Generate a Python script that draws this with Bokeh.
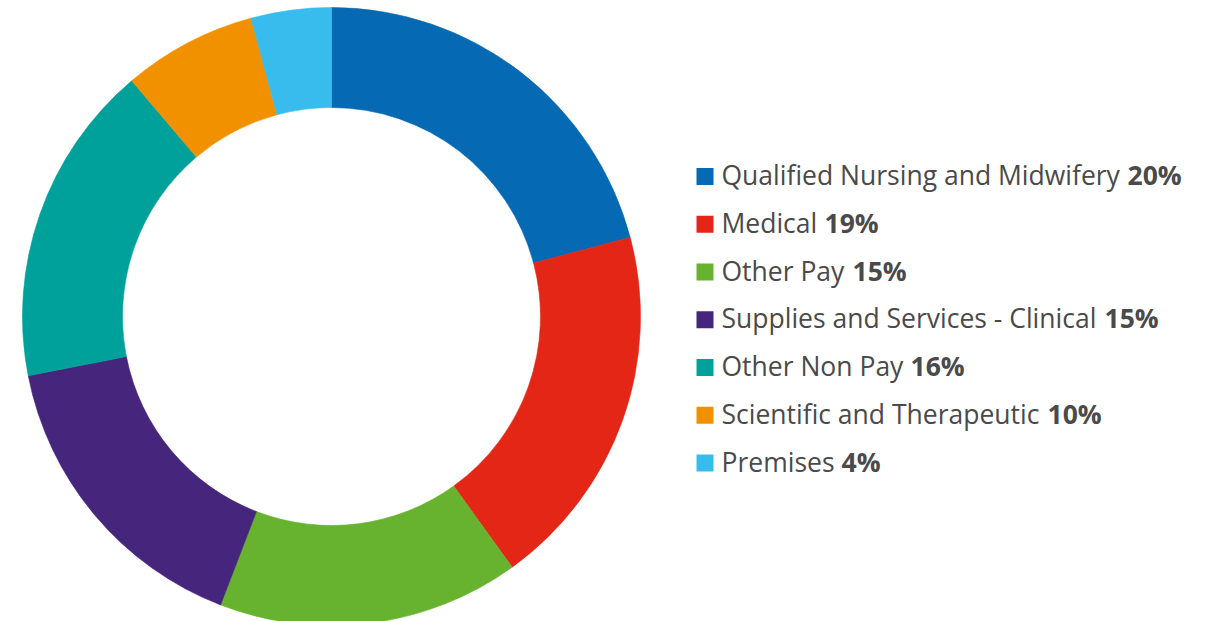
import math
from bokeh.plotting import figure
from bokeh.models import Range1d, ColumnDataSource
from bokeh.core.properties import value
from bokeh.embed import file_html
from bokeh.resources import INLINE

# ---- data ----
categories = [
    "Qualified Nursing and Midwifery",
    "Medical",
    "Other Pay",
    "Supplies and Services - Clinical",
    "Other Non Pay",
    "Scientific and Therapeutic",
    "Premises",
]
# slice sizes as drawn in the picture (percent of the ring)
shares = [20.9, 19.2, 15.8, 16.1, 16.9, 7.0, 4.2]
# percentages printed in the legend
legend_pct = [20, 19, 15, 15, 16, 10, 4]
colors = ["#0569b3", "#e32616", "#67b32f", "#45267c", "#00a19a", "#f29100", "#38bcee"]

# ---- layout (page pixels) ----
W, H = 1230, 621
cx, cy = 331, 316
r_out, r_in = 309, 209
leg_sq_left, leg_sq = 696, 17
leg_top0, leg_step = 167.5, 47.75
text_x = 721
text_shift = 10  # raise text so its baseline sits on the square's bottom edge
pct_x = [1127, 824, 852, 1104, 910, 1047, 841]  # where the bold figures start
font = "Open Sans"
fsize = "26.5px"
tcolor = "#4a4a4a"

total = sum(shares)
cum = [0.0]
for s in shares:
    cum.append(cum[-1] + s)
start = [math.pi / 2 - 2 * math.pi * cum[i + 1] / total for i in range(len(shares))]
end = [math.pi / 2 - 2 * math.pi * cum[i] / total for i in range(len(shares))]

p = figure(width=W, height=H, x_range=Range1d(0, W), y_range=Range1d(-H, 0),
           output_backend="svg", toolbar_location=None, min_border=0,
           outline_line_color=None, background_fill_color="white", border_fill_color="white")
p.axis.visible = False
p.grid.visible = False

src = ColumnDataSource(dict(start=start, end=end, color=colors, cat=categories))
p.annular_wedge(x=cx, y=-cy, inner_radius=r_in, outer_radius=r_out,
                start_angle="start", end_angle="end", fill_color="color",
                line_color="color", line_width=0.6, source=src)

n = len(categories)
tops = [leg_top0 + i * leg_step for i in range(n)]
p.quad(left=[leg_sq_left] * n, right=[leg_sq_left + leg_sq] * n,
       top=[-t for t in tops], bottom=[-(t + leg_sq) for t in tops],
       fill_color=colors, line_color=None)

base = [-(t + leg_sq) + text_shift for t in tops]
p.text(x=[text_x] * n, y=base, text=categories, text_font=value(font),
       text_font_size=fsize, text_color=tcolor, text_baseline="alphabetic")
p.text(x=pct_x, y=base, text=[f"{v}%" for v in legend_pct], text_font=value(font),
       text_font_size=fsize, text_font_style="bold", text_color=tcolor,
       text_baseline="alphabetic")

open("out.html", "w").write(file_html(p, INLINE))
